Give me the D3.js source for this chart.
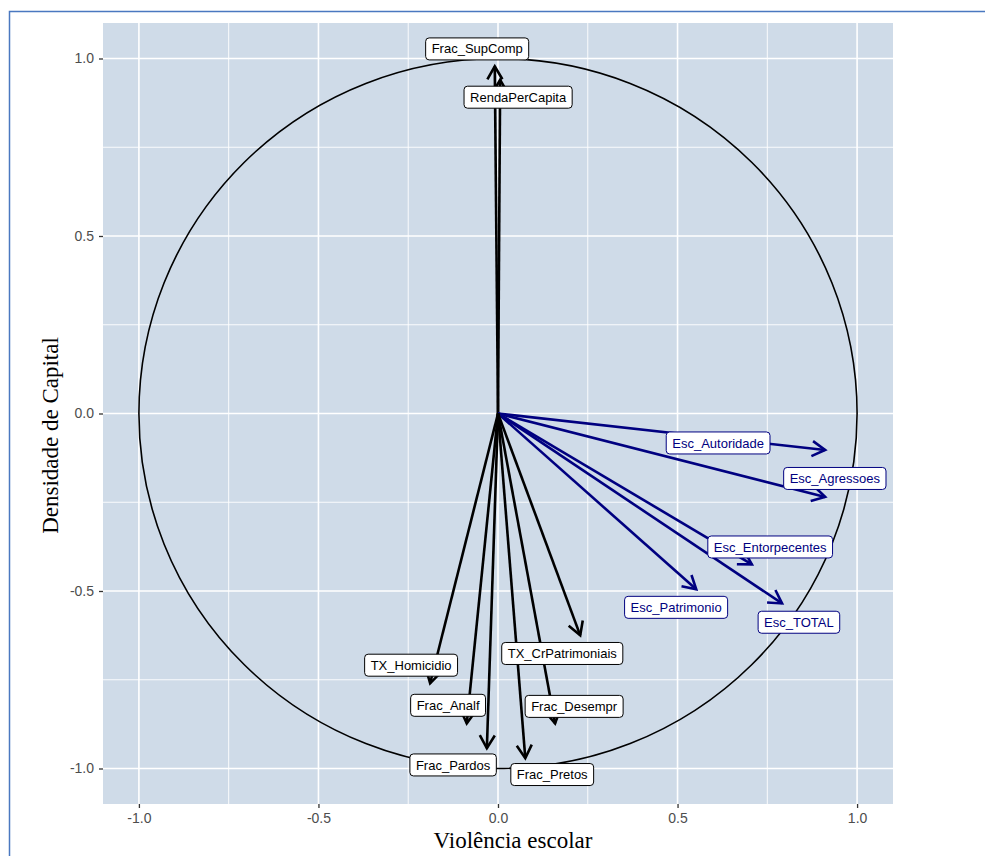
<!DOCTYPE html>
<html>
<head>
<meta charset="utf-8">
<script src="https://cdn.jsdelivr.net/npm/d3@7"></script>
<style>
  body { margin: 0; background: #fff; }
  svg { display: block; }
</style>
</head>
<body>
<svg id="chart" width="985" height="856"></svg>
<script>
'use strict'

// correlation circle: loadings of each variable on the two axes
const varNames = [
  'Frac_SupComp', 'RendaPerCapita',
  'Esc_Autoridade', 'Esc_Agressoes', 'Esc_Entorpecentes', 'Esc_Patrimonio', 'Esc_TOTAL',
  'TX_CrPatrimoniais', 'TX_Homicidio', 'Frac_Analf', 'Frac_Desempr', 'Frac_Pardos', 'Frac_Pretos'
]
const xLoad = [-0.009, 0.006, 0.911, 0.911, 0.707, 0.552, 0.791, 0.229, -0.189, -0.087, 0.159, -0.031, 0.076]
const yLoad = [0.978, 0.940, -0.103, -0.235, -0.425, -0.495, -0.535, -0.625, -0.760, -0.873, -0.873, -0.943, -0.971]
const varGroup = ['cap', 'cap', 'esc', 'esc', 'esc', 'esc', 'esc', 'cap', 'cap', 'cap', 'cap', 'cap', 'cap']
// repelled label positions (data units)
const labelX = [-0.058, 0.056, 0.613, 0.938, 0.758, 0.496, 0.838, 0.179, -0.242, -0.139, 0.212, -0.125, 0.151]
const labelY = [1.027, 0.891, -0.083, -0.183, -0.376, -0.546, -0.588, -0.676, -0.709, -0.822, -0.825, -0.990, -1.017]

const majorTicks = [-1.0, -0.5, 0.0, 0.5, 1.0]
const minorTicks = [-0.75, -0.25, 0.25, 0.75]

const groupColor = { cap: '#000000', esc: '#000080' }

const svg = d3.select('#chart')

// page frame
svg.append('path')
  .attr('d', 'M9.5,856 L9.5,11.5 L985,11.5')
  .attr('fill', 'none')
  .attr('stroke', '#4a78c0')
  .attr('stroke-width', 1.5)

const margin = { left: 103, top: 23 }
const width = 790
const height = 781

const x = d3.scaleLinear().domain([-1.1, 1.1]).range([0, width])
const y = d3.scaleLinear().domain([-1.1, 1.1]).range([height, 0])

const g = svg.append('g').attr('transform', `translate(${margin.left},${margin.top})`)

g.append('rect')
  .attr('width', width)
  .attr('height', height)
  .attr('fill', '#cfdbe8')

// grid
g.selectAll('line.minor-x').data(minorTicks).enter().append('line')
  .attr('x1', d => x(d)).attr('x2', d => x(d))
  .attr('y1', 0).attr('y2', height)
  .attr('stroke', '#fff').attr('stroke-width', 0.9)
g.selectAll('line.minor-y').data(minorTicks).enter().append('line')
  .attr('y1', d => y(d)).attr('y2', d => y(d))
  .attr('x1', 0).attr('x2', width)
  .attr('stroke', '#fff').attr('stroke-width', 0.9)
g.selectAll('line.major-x').data(majorTicks).enter().append('line')
  .attr('x1', d => x(d)).attr('x2', d => x(d))
  .attr('y1', 0).attr('y2', height)
  .attr('stroke', '#fff').attr('stroke-width', 1.6)
g.selectAll('line.major-y').data(majorTicks).enter().append('line')
  .attr('y1', d => y(d)).attr('y2', d => y(d))
  .attr('x1', 0).attr('x2', width)
  .attr('stroke', '#fff').attr('stroke-width', 1.6)

// axes (plain hyphen for negatives, as R prints them)
const fmt = d => d3.format('.1f')(d).replace('\u2212', '-')
const xAxis = d3.axisBottom(x).tickValues(majorTicks).tickFormat(fmt).tickSize(4).tickPadding(5)
const yAxis = d3.axisLeft(y).tickValues(majorTicks).tickFormat(fmt).tickSize(4).tickPadding(5)

const gx = g.append('g').attr('transform', `translate(0,${height})`).call(xAxis)
const gy = g.append('g').call(yAxis)
;[gx, gy].forEach(ax => {
  ax.select('.domain').remove()
  ax.selectAll('.tick line').attr('stroke', '#333').attr('stroke-width', 1.3)
  ax.selectAll('.tick text')
    .attr('fill', '#4d4d4d')
    .style('font-family', '"Liberation Sans", Arial, sans-serif')
    .style('font-size', '14px')
})

// unit circle
g.append('ellipse')
  .attr('cx', x(0)).attr('cy', y(0))
  .attr('rx', x(1) - x(0)).attr('ry', y(0) - y(1))
  .attr('fill', 'none')
  .attr('stroke', '#000')
  .attr('stroke-width', 1.6)

// arrows
const headLen = 15
const headAngle = Math.PI / 6
const idx = d3.range(varNames.length)

const arrows = g.selectAll('g.arrow').data(idx).enter().append('g')
arrows.append('line')
  .attr('x1', x(0)).attr('y1', y(0))
  .attr('x2', i => x(xLoad[i])).attr('y2', i => y(yLoad[i]))
  .attr('stroke', i => groupColor[varGroup[i]])
  .attr('stroke-width', 2.6)
arrows.append('path')
  .attr('d', i => {
    const tx = x(xLoad[i])
    const ty = y(yLoad[i])
    const ang = Math.atan2(ty - y(0), tx - x(0))
    const a1 = ang + Math.PI - headAngle
    const a2 = ang + Math.PI + headAngle
    return `M${tx + headLen * Math.cos(a1)},${ty + headLen * Math.sin(a1)} L${tx},${ty} L${tx + headLen * Math.cos(a2)},${ty + headLen * Math.sin(a2)}`
  })
  .attr('fill', 'none')
  .attr('stroke', i => groupColor[varGroup[i]])
  .attr('stroke-width', 2.6)
  .attr('stroke-linejoin', 'miter')

// labels
const labels = g.selectAll('g.label').data(idx).enter().append('g')
  .attr('transform', i => `translate(${x(labelX[i])},${y(labelY[i])})`)
labels.append('rect')
const labelTexts = labels.append('text')
  .attr('text-anchor', 'middle')
  .attr('dy', '0.35em')
  .attr('fill', i => groupColor[varGroup[i]])
  .style('font-family', '"Liberation Sans", Arial, sans-serif')
  .style('font-size', '13px')
  .text(i => varNames[i])
labelTexts.each(function (i) {
  const w = this.getComputedTextLength() + 12
  d3.select(this.parentNode).select('rect')
    .attr('x', -w / 2).attr('y', -11)
    .attr('width', w).attr('height', 22)
    .attr('rx', 3.5)
    .attr('fill', '#fff')
    .attr('stroke', groupColor[varGroup[i]])
    .attr('stroke-width', 1)
})

// axis titles
svg.append('text')
  .attr('x', margin.left + x(0) + 15)
  .attr('y', 848)
  .attr('text-anchor', 'middle')
  .style('font-family', '"Liberation Serif", "Times New Roman", serif')
  .style('font-size', '23px')
  .attr('fill', '#000')
  .text('Violência escolar')

svg.append('text')
  .attr('transform', `translate(58,${margin.top + y(0) + 22}) rotate(-90)`)
  .attr('text-anchor', 'middle')
  .style('font-family', '"Liberation Serif", "Times New Roman", serif')
  .style('font-size', '23px')
  .attr('fill', '#000')
  .text('Densidade de Capital')
</script>
</body>
</html>
